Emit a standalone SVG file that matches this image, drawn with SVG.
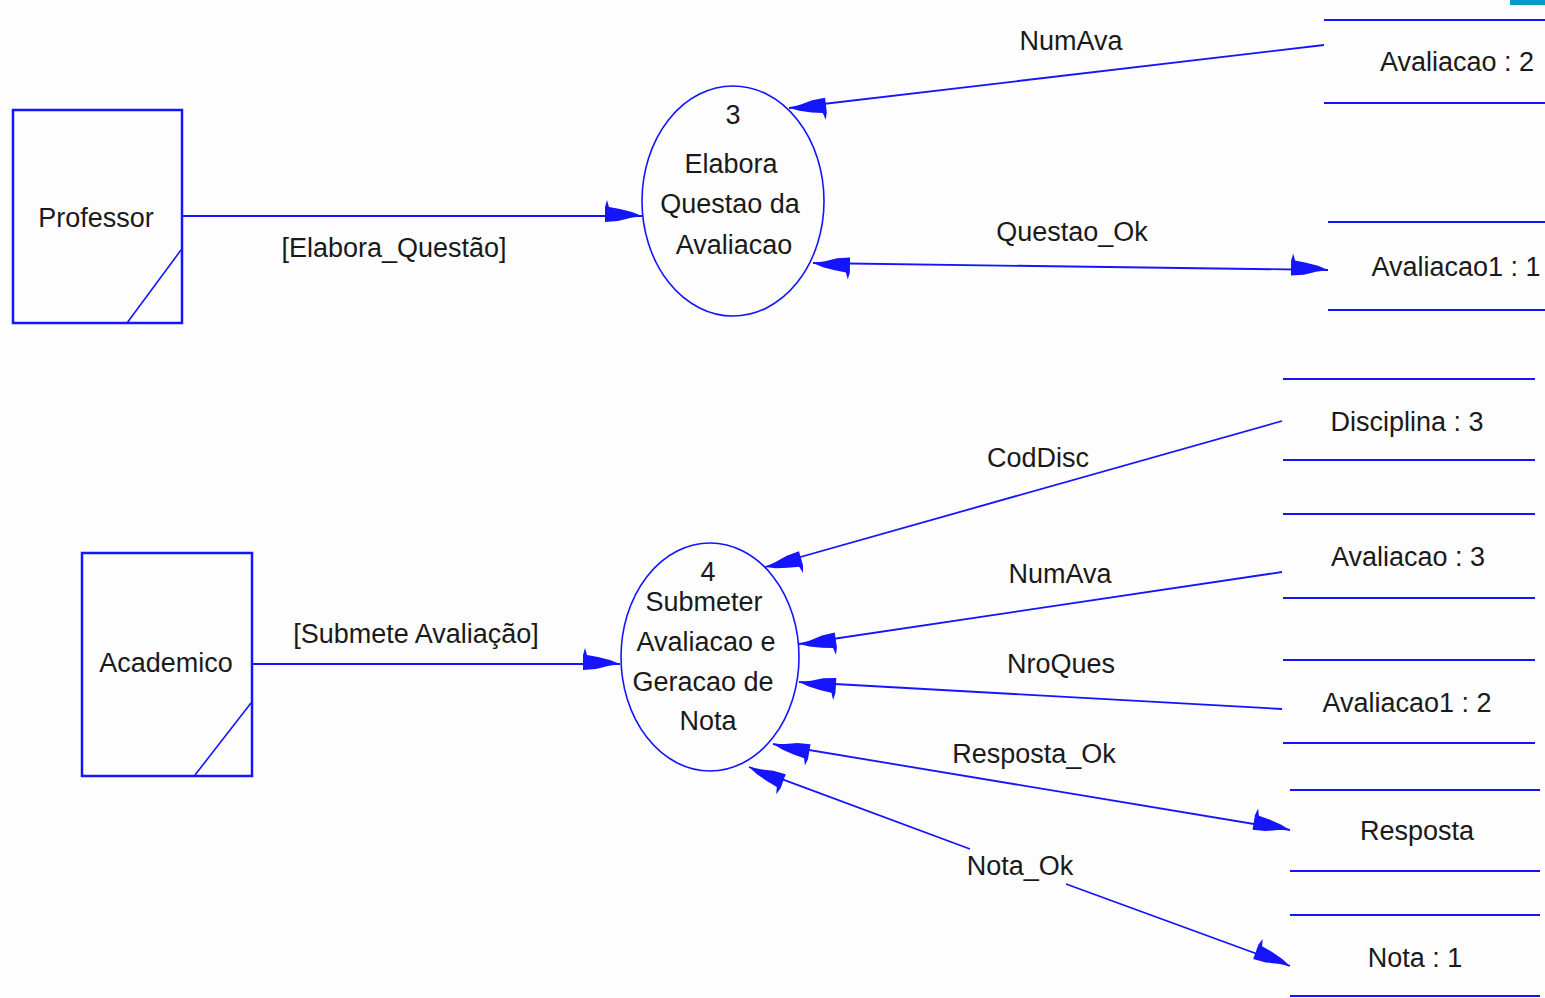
<svg xmlns="http://www.w3.org/2000/svg" width="1545" height="998" viewBox="0 0 1545 998">
<style>
.bg{fill:#fdfdfd}
.ent{fill:none;stroke:#1414ff;stroke-width:2.5}
.diag{fill:none;stroke:#1414ff;stroke-width:1.6}
.proc{fill:none;stroke:#1414ff;stroke-width:1.6}
.store{stroke:#1414ff;stroke-width:2.2}
.flow{fill:none;stroke:#1414ff;stroke-width:1.8}
text{font-family:"Liberation Sans",Arial,sans-serif;font-size:27px;fill:#1a1a1a;text-anchor:middle}
</style>
<defs>
<marker id="ah" markerUnits="userSpaceOnUse" viewBox="-38 -17 39 24" refX="0" refY="0" markerWidth="39" markerHeight="24" orient="auto-start-reverse">
<path d="M0,0 L-10,-4 L-22,-7 L-33,-9 L-35,-16 L-37,-9 L-37,6 L-24,5 L-12,2 Z" fill="#1414ff"/>
</marker>
</defs>
<rect class="bg" x="0" y="0" width="1545" height="998"/>
<rect x="1510" y="0" width="35" height="5" fill="#0099cc"/>

<g id="professor">
<rect class="ent" x="13" y="110" width="169" height="213"/>
<line class="diag" x1="181" y1="250" x2="127" y2="323"/>
<text x="96" y="227">Professor</text>
</g>

<g id="academico">
<rect class="ent" x="82" y="553" width="170" height="223"/>
<line class="diag" x1="251" y1="703" x2="195" y2="775"/>
<text x="166" y="672">Academico</text>
</g>

<g id="proc3">
<ellipse class="proc" cx="733" cy="201" rx="91" ry="115"/>
<text x="733" y="124">3</text>
<text x="731" y="173">Elabora</text>
<text x="730" y="213">Questao da</text>
<text x="734" y="254">Avaliacao</text>
</g>

<g id="proc4">
<ellipse class="proc" cx="710" cy="657" rx="89" ry="114"/>
<text x="708" y="581">4</text>
<text x="704" y="611">Submeter</text>
<text x="706" y="651">Avaliacao e</text>
<text x="703" y="691">Geracao de</text>
<text x="708" y="730">Nota</text>
</g>

<g id="store-avaliacao2">
<line class="store" x1="1324" y1="20" x2="1545" y2="20"/>
<line class="store" x1="1324" y1="103" x2="1545" y2="103"/>
<text x="1457" y="71">Avaliacao : 2</text>
</g>

<g id="store-avaliacao1-1">
<line class="store" x1="1328" y1="222" x2="1545" y2="222"/>
<line class="store" x1="1328" y1="310" x2="1545" y2="310"/>
<text x="1456" y="276">Avaliacao1 : 1</text>
</g>

<g id="store-disciplina3">
<line class="store" x1="1283" y1="379" x2="1535" y2="379"/>
<line class="store" x1="1283" y1="460" x2="1535" y2="460"/>
<text x="1407" y="431">Disciplina : 3</text>
</g>

<g id="store-avaliacao3">
<line class="store" x1="1283" y1="514" x2="1535" y2="514"/>
<line class="store" x1="1283" y1="598" x2="1535" y2="598"/>
<text x="1408" y="566">Avaliacao : 3</text>
</g>

<g id="store-avaliacao1-2">
<line class="store" x1="1283" y1="660" x2="1535" y2="660"/>
<line class="store" x1="1283" y1="743" x2="1535" y2="743"/>
<text x="1407" y="712">Avaliacao1 : 2</text>
</g>

<g id="store-resposta">
<line class="store" x1="1290" y1="790" x2="1540" y2="790"/>
<line class="store" x1="1290" y1="871" x2="1540" y2="871"/>
<text x="1417" y="840">Resposta</text>
</g>

<g id="store-nota1">
<line class="store" x1="1290" y1="915" x2="1540" y2="915"/>
<line class="store" x1="1290" y1="996" x2="1540" y2="996"/>
<text x="1415" y="967">Nota : 1</text>
</g>

<g id="connectors">
<line class="flow" x1="183" y1="216" x2="642" y2="216" marker-end="url(#ah)"/>
<text x="394" y="257">[Elabora_Questão]</text>

<line class="flow" x1="1324" y1="45" x2="789" y2="108" marker-end="url(#ah)"/>
<text x="1071" y="50">NumAva</text>

<line class="flow" x1="813" y1="263" x2="1328" y2="270" marker-start="url(#ah)" marker-end="url(#ah)"/>
<text x="1072" y="241">Questao_Ok</text>

<line class="flow" x1="252" y1="664" x2="620" y2="664" marker-end="url(#ah)"/>
<text x="416" y="643">[Submete Avaliação]</text>

<line class="flow" x1="1282" y1="421" x2="765" y2="567" marker-end="url(#ah)"/>
<text x="1038" y="467">CodDisc</text>

<line class="flow" x1="1282" y1="572" x2="799" y2="644" marker-end="url(#ah)"/>
<text x="1060" y="583">NumAva</text>

<line class="flow" x1="1282" y1="709" x2="799" y2="682" marker-end="url(#ah)"/>
<text x="1061" y="673">NroQues</text>

<line class="flow" x1="773" y1="744" x2="1290" y2="830" marker-start="url(#ah)" marker-end="url(#ah)"/>
<text x="1034" y="763">Resposta_Ok</text>

<line class="flow" x1="970" y1="849" x2="749" y2="767" marker-end="url(#ah)"/>
<line class="flow" x1="1066" y1="884" x2="1290" y2="966" marker-end="url(#ah)"/>
<text x="1020" y="875">Nota_Ok</text>
</g>
</svg>
